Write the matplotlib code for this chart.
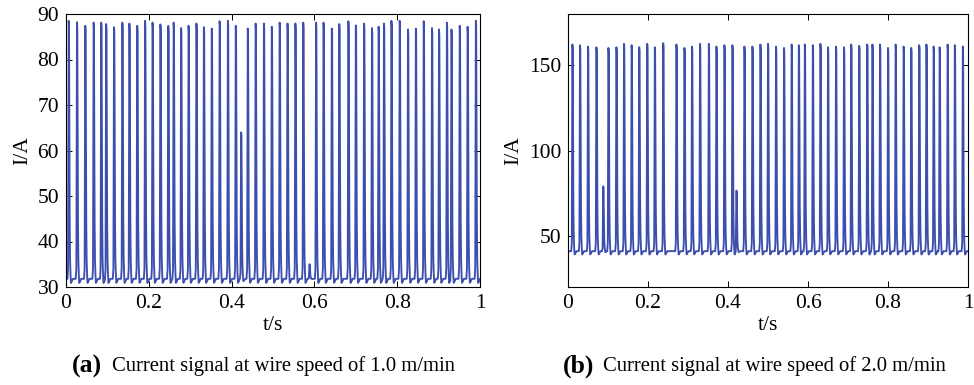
import numpy as np
import matplotlib
matplotlib.use("Agg")
import matplotlib.pyplot as plt

plt.rcParams['font.family'] = ['Liberation Serif', 'DejaVu Serif']

# ---- data: pulse onset times (s) and peak currents (A) ----
times_a = [0.0065, 0.0265, 0.0465, 0.0667, 0.085, 0.097, 0.116, 0.136, 0.153,
           0.172, 0.191, 0.209, 0.228, 0.247, 0.260, 0.278, 0.296, 0.315,
           0.333, 0.352, 0.371, 0.391, 0.410, 0.423, 0.439, 0.458, 0.478,
           0.497, 0.516, 0.535, 0.554, 0.573, 0.588, 0.604, 0.622, 0.642, 0.660,
           0.682, 0.700, 0.720, 0.739, 0.755, 0.768, 0.786, 0.806, 0.826,
           0.845, 0.864, 0.884, 0.901, 0.920, 0.931, 0.951, 0.970, 0.990]
peaks_a = [88.5, 88.2, 87.4, 88.1, 88.1, 87.8, 87.1, 88.1, 87.9,
           87.4, 88.5, 88.1, 87.7, 87.4, 88.1, 86.9, 87.4, 87.9,
           87.1, 86.8, 88.4, 88.5, 87.4, 64.0, 86.8, 87.9, 87.9,
           87.2, 88.1, 87.9, 87.9, 88.1, 35.0, 88.1, 88.1, 86.8, 87.8,
           88.4, 87.5, 87.9, 86.9, 87.2, 87.9, 88.5, 88.5, 86.6,
           86.8, 88.4, 86.9, 86.6, 88.1, 86.6, 87.4, 87.2, 88.5]
base_a = 31.8

times_b = [0.011, 0.030, 0.050, 0.071, 0.088, 0.101, 0.121, 0.140, 0.159,
           0.178, 0.198, 0.217, 0.238, 0.271, 0.291, 0.310, 0.330,
           0.352, 0.371, 0.391, 0.411, 0.421, 0.441, 0.461, 0.481, 0.500,
           0.520, 0.540, 0.559, 0.577, 0.592, 0.612, 0.631, 0.650, 0.670,
           0.690, 0.708, 0.728, 0.748, 0.761, 0.780, 0.800, 0.819, 0.839,
           0.858, 0.878, 0.896, 0.914, 0.929, 0.949, 0.967, 0.987]
peaks_b = [162.1, 161.7, 160.9, 160.5, 79.0, 160.1, 160.5, 162.5, 161.7,
           160.5, 162.5, 160.5, 162.9, 162.1, 160.1, 160.9, 162.5,
           162.5, 160.9, 161.7, 161.7, 76.5, 160.9, 160.9, 162.1, 162.5,
           160.9, 160.1, 162.1, 161.7, 162.1, 161.7, 162.5, 160.5, 160.9,
           160.5, 162.1, 161.3, 162.1, 162.1, 162.1, 160.1, 162.1, 160.9,
           160.1, 161.7, 162.1, 160.9, 160.5, 162.1, 161.7, 160.9]
base_b = 41.0

x_ticks = [0, 0.2, 0.4, 0.6, 0.8, 1]
x_ticklabels = ['0', '0.2', '0.4', '0.6', '0.8', '1']
y_ticks_a = [30, 40, 50, 60, 70, 80, 90]
y_ticks_b = [50, 100, 150]

captions = [("(a)", "Current signal at wire speed of 1.0 m/min"),
            ("(b)", "Current signal at wire speed of 2.0 m/min")]

# single pulse profile: offset from peak (s) -> fraction of pulse height
shape_dt = np.array([-3.0, -1.5, -0.6, 0.0, 0.8, 1.5, 2.3, 3.0, 4.0, 5.5, 7.0, 10.0]) * 1e-3
shape_fr = np.array([0.0, 0.04, 0.5, 1.0, 0.98, 0.6, 0.25, 0.1, 0.03, -0.016, -0.012, 0.0])


def waveform(t, times, peaks, base):
    y = np.full_like(t, base)
    for tp, pk in zip(times, peaks):
        y += (pk - base) * np.interp(t - tp, shape_dt, shape_fr, left=0.0, right=0.0)
    return y


t = np.linspace(0, 1, 20001)
sig_a = waveform(t, times_a, peaks_a, base_a)
sig_b = waveform(t, times_b, peaks_b, base_b)

W, H = 974, 385
fig = plt.figure(figsize=(W / 100, H / 100), dpi=100)

line_color = '#3d4fae'
ax_a = fig.add_axes([66 / W, 1 - 287 / H, 414 / W, 273 / H])
ax_b = fig.add_axes([568 / W, 1 - 287 / H, 400 / W, 273 / H])

for ax, sig, yl, yt in [(ax_a, sig_a, (30, 90), y_ticks_a),
                        (ax_b, sig_b, (20, 180), y_ticks_b)]:
    ax.plot(t, sig, color=line_color, lw=1.35)
    ax.set_xlim(0, 1)
    ax.set_ylim(*yl)
    ax.set_xticks(x_ticks)
    ax.set_xticklabels(x_ticklabels)
    ax.set_yticks(yt)
    ax.tick_params(direction='in', length=4, width=0.7, top=True, right=True,
                   labelsize=15.5, pad=5, colors='black')
    for s in ax.spines.values():
        s.set_linewidth(0.8)
    ax.set_xlabel('t/s', fontsize=15.5, labelpad=2)
    ax.set_ylabel('I/A', fontsize=15.5, labelpad=4)

# captions beneath each panel
for (tag, text), x_tag, x_txt in zip(captions, [72, 563], [112, 603]):
    fig.text(x_tag / W, 1 - 366 / H, tag, fontsize=18.5, fontweight='bold',
             ha='left', va='center')
    fig.text(x_txt / W, 1 - 366 / H, text, fontsize=14.9, ha='left', va='center')

fig.savefig('out.png', dpi=100)
